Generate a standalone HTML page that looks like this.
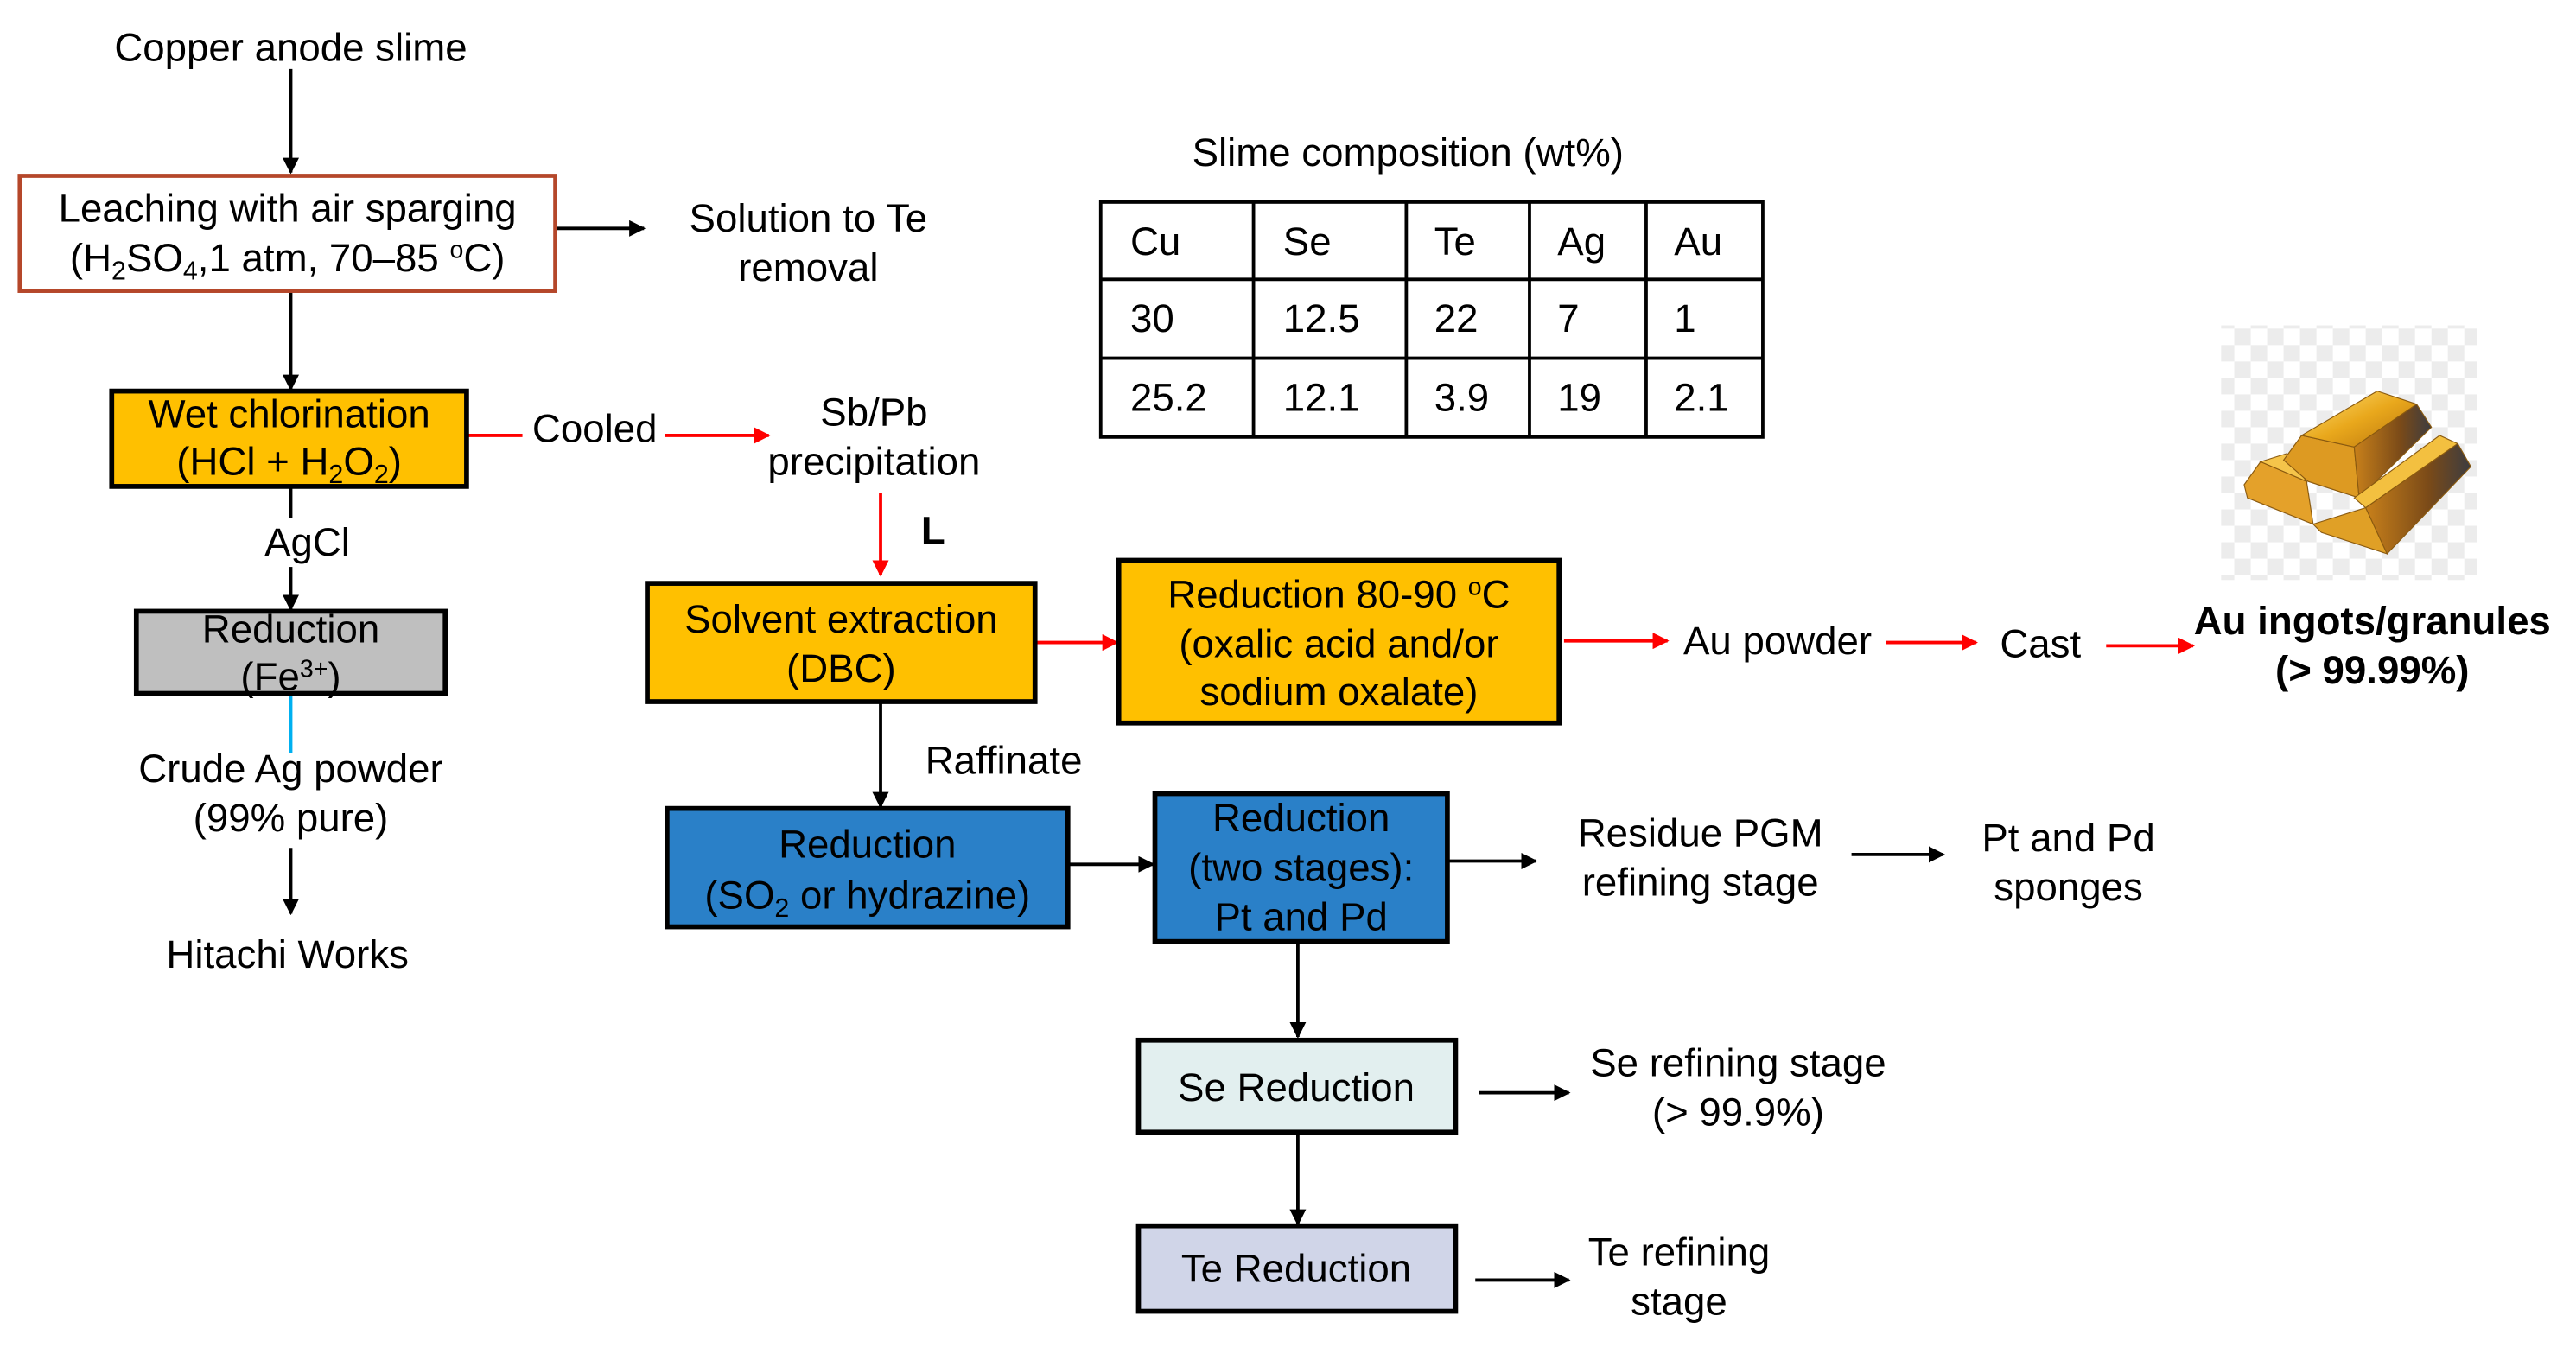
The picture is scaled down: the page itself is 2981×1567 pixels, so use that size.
<!DOCTYPE html>
<html><head><meta charset="utf-8"><style>
html,body{margin:0;padding:0;background:#fff;}
svg{display:block;}
text{font-family:"Liberation Sans",Arial,sans-serif;font-size:24px;fill:#000;}
</style></head><body>
<svg width="2981" height="1567" viewBox="0 0 1568 824" preserveAspectRatio="none" xmlns="http://www.w3.org/2000/svg">
<defs>
<marker id="ab" markerWidth="10" markerHeight="10" refX="9" refY="5" orient="auto" markerUnits="userSpaceOnUse"><path d="M0,0 L10,5 L0,10 z" fill="#000"/></marker>
<marker id="ar" markerWidth="10" markerHeight="10" refX="9" refY="5" orient="auto" markerUnits="userSpaceOnUse"><path d="M0,0 L10,5 L0,10 z" fill="#f00"/></marker>
<pattern id="chk" width="20" height="20" patternUnits="userSpaceOnUse"><rect width="20" height="20" fill="#fff"/><rect width="10" height="10" fill="#ececec"/><rect x="10" y="10" width="10" height="10" fill="#ececec"/></pattern>
<linearGradient id="g1" x1="0" y1="0" x2="1" y2="1"><stop offset="0" stop-color="#ffe27a"/><stop offset="0.5" stop-color="#e9a81c"/><stop offset="1" stop-color="#b8730d"/></linearGradient>
<linearGradient id="g2" x1="0" y1="0" x2="1" y2="0"><stop offset="0" stop-color="#c8801a"/><stop offset="0.6" stop-color="#7a4a18"/><stop offset="1" stop-color="#3c3c40"/></linearGradient>
</defs>
<g stroke="#000" stroke-width="2" fill="none">
<line x1="177" y1="42" x2="177" y2="105" marker-end="url(#ab)"/>
<line x1="338" y1="139" x2="392" y2="139" marker-end="url(#ab)"/>
<line x1="177" y1="177" x2="177" y2="237" marker-end="url(#ab)"/>
<line x1="177" y1="296" x2="177" y2="315"/>
<line x1="177" y1="345" x2="177" y2="371" marker-end="url(#ab)"/>
<line x1="177" y1="516" x2="177" y2="556" marker-end="url(#ab)"/>
<line x1="536" y1="427" x2="536" y2="491" marker-end="url(#ab)"/>
<line x1="650" y1="526" x2="702" y2="526" marker-end="url(#ab)"/>
<line x1="881" y1="524" x2="935" y2="524" marker-end="url(#ab)"/>
<line x1="1127" y1="520" x2="1183" y2="520" marker-end="url(#ab)"/>
<line x1="790" y1="573" x2="790" y2="631" marker-end="url(#ab)"/>
<line x1="900" y1="665" x2="955" y2="665" marker-end="url(#ab)"/>
<line x1="790" y1="689" x2="790" y2="745" marker-end="url(#ab)"/>
<line x1="898" y1="779" x2="955" y2="779" marker-end="url(#ab)"/>
</g>
<g stroke="#f00" stroke-width="2" fill="none">
<line x1="284" y1="265" x2="318" y2="265"/>
<line x1="405" y1="265" x2="468" y2="265" marker-end="url(#ar)"/>
<line x1="536" y1="300" x2="536" y2="350" marker-end="url(#ar)"/>
<line x1="630" y1="391" x2="680" y2="391" marker-end="url(#ar)"/>
<line x1="952" y1="390" x2="1015" y2="390" marker-end="url(#ar)"/>
<line x1="1148" y1="391" x2="1203" y2="391" marker-end="url(#ar)"/>
<line x1="1282" y1="393" x2="1335" y2="393" marker-end="url(#ar)"/>
</g>
<line x1="177" y1="422" x2="177" y2="458" stroke="#00b0f0" stroke-width="2"/>

<rect x="12" y="107" width="326" height="70" fill="#fff" stroke="#b5472a" stroke-width="2.5"/>
<rect x="68" y="238" width="216" height="58" fill="#ffc000" stroke="#000" stroke-width="3"/>
<rect x="83" y="372" width="188" height="50" fill="#bfbfbf" stroke="#000" stroke-width="3"/>
<rect x="394" y="355" width="236" height="72" fill="#ffc000" stroke="#000" stroke-width="3"/>
<rect x="681" y="341" width="268" height="99" fill="#ffc000" stroke="#000" stroke-width="3"/>
<rect x="406" y="492" width="244" height="72" fill="#2a80c8" stroke="#000" stroke-width="3"/>
<rect x="703" y="483" width="178" height="90" fill="#2a80c8" stroke="#000" stroke-width="3"/>
<rect x="693" y="633" width="193" height="56" fill="#e2efef" stroke="#000" stroke-width="3"/>
<rect x="693" y="746" width="193" height="52" fill="#d0d5e8" stroke="#000" stroke-width="3"/>

<g stroke="#000" stroke-width="2" fill="none">
<rect x="670" y="123" width="403" height="143"/>
<line x1="763" y1="123" x2="763" y2="266"/><line x1="856" y1="123" x2="856" y2="266"/>
<line x1="931" y1="123" x2="931" y2="266"/><line x1="1002" y1="123" x2="1002" y2="266"/>
<line x1="670" y1="170" x2="1073" y2="170"/><line x1="670" y1="218" x2="1073" y2="218"/>
</g>

<rect x="1352" y="198" width="156" height="155" fill="url(#chk)"/>
<g stroke="#8a5a10" stroke-width="0.6">
<polygon points="1366,295 1376,281 1404,293 1408,319 1368,303" fill="#e4a12a"/>
<polygon points="1376,281 1392,276 1404,293" fill="#f5c44a"/>
<polygon points="1390,280 1401,265 1433,272 1436,303 1405,293" fill="#dd9a22"/>
<polygon points="1401,265 1447,238 1471,246 1433,272" fill="url(#g1)"/>
<polygon points="1471,246 1480,260 1436,303 1433,272" fill="url(#g2)"/>
<polygon points="1433,303 1485,265 1496,270 1440,309" fill="#f3c040"/>
<polygon points="1408,319 1440,309 1453,337 1413,324" fill="#e0a026"/>
<polygon points="1496,270 1504,284 1453,337 1440,309" fill="url(#g2)"/>
</g>

<g text-anchor="middle">
<text x="177" y="37">Copper anode slime</text>
<text x="175" y="135">Leaching with air sparging</text>
<text x="175" y="165">(H<tspan font-size="16" dy="5">2</tspan><tspan dy="-5">SO</tspan><tspan font-size="16" dy="5">4</tspan><tspan dy="-5">,1 atm, 70–85 </tspan><tspan font-size="15" dy="-8">o</tspan><tspan dy="8">C)</tspan></text>
<text x="492" y="141">Solution to Te</text>
<text x="492" y="171">removal</text>
<text x="176" y="260">Wet chlorination</text>
<text x="176" y="289">(HCl + H<tspan font-size="16" dy="5">2</tspan><tspan dy="-5">O</tspan><tspan font-size="16" dy="5">2</tspan><tspan dy="-5">)</tspan></text>
<text x="362" y="269">Cooled</text>
<text x="532" y="259">Sb/Pb</text>
<text x="532" y="289">precipitation</text>
<text x="568" y="331" font-weight="bold">L</text>
<text x="187" y="338">AgCl</text>
<text x="177" y="391">Reduction</text>
<text x="177" y="420">(Fe<tspan font-size="15" dy="-8">3+</tspan><tspan dy="8">)</tspan></text>
<text x="177" y="476">Crude Ag powder</text>
<text x="177" y="506">(99% pure)</text>
<text x="175" y="589" font-size="21">Hitachi Works</text>
<text x="857" y="101">Slime composition (wt%)</text>
<text x="512" y="385">Solvent extraction</text>
<text x="512" y="415">(DBC)</text>
<text x="815" y="370">Reduction 80-90 <tspan font-size="15" dy="-8">o</tspan><tspan dy="8">C</tspan></text>
<text x="815" y="400">(oxalic acid and/or</text>
<text x="815" y="429">sodium oxalate)</text>
<text x="1082" y="398">Au powder</text>
<text x="1242" y="400">Cast</text>
<text x="1444" y="386" font-weight="bold">Au ingots/granules</text>
<text x="1444" y="416" font-weight="bold">(&gt; 99.99%)</text>
<text x="611" y="471">Raffinate</text>
<text x="528" y="522">Reduction</text>
<text x="528" y="553">(SO<tspan font-size="16" dy="5">2</tspan><tspan dy="-5"> or hydrazine)</tspan></text>
<text x="792" y="506">Reduction</text>
<text x="792" y="536">(two stages):</text>
<text x="792" y="566">Pt and Pd</text>
<text x="1035" y="515">Residue PGM</text>
<text x="1035" y="545">refining stage</text>
<text x="1259" y="518">Pt and Pd</text>
<text x="1259" y="548">sponges</text>
<text x="789" y="670">Se Reduction</text>
<text x="1058" y="655">Se refining stage</text>
<text x="1058" y="685">(&gt; 99.9%)</text>
<text x="789" y="780">Te Reduction</text>
<text x="1022" y="770">Te refining</text>
<text x="1022" y="800">stage</text>
</g>
<g>
<text x="688" y="155">Cu</text><text x="781" y="155">Se</text><text x="873" y="155">Te</text><text x="948" y="155">Ag</text><text x="1019" y="155">Au</text>
<text x="688" y="202">30</text><text x="781" y="202">12.5</text><text x="873" y="202">22</text><text x="948" y="202">7</text><text x="1019" y="202">1</text>
<text x="688" y="250">25.2</text><text x="781" y="250">12.1</text><text x="873" y="250">3.9</text><text x="948" y="250">19</text><text x="1019" y="250">2.1</text>
</g>
</svg>
</body></html>
